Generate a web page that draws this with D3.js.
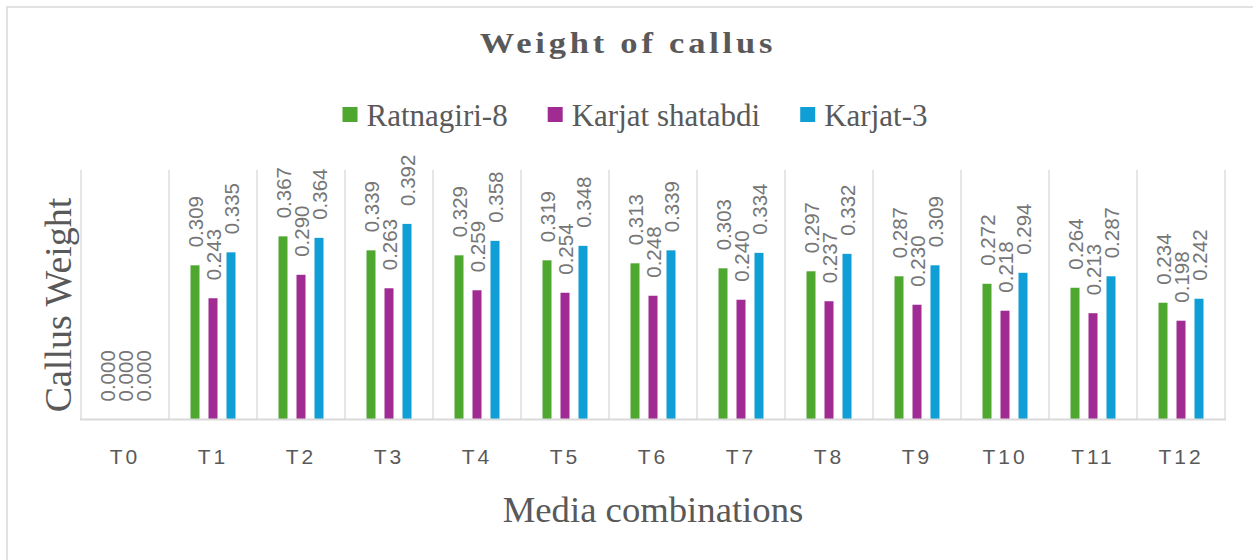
<!DOCTYPE html>
<html>
<head>
<meta charset="utf-8">
<script src="https://cdn.jsdelivr.net/npm/d3@7"></script>
<style>
  body { margin: 0; background: #fff; }
  svg { display: block; }
</style>
</head>
<body>
<svg id="chart" width="1253" height="560"></svg>
<script>
// chart data
var treatments = ["T0", "T1", "T2", "T3", "T4", "T5", "T6", "T7", "T8", "T9", "T10", "T11", "T12"];
var seriesNames = ["Ratnagiri-8", "Karjat shatabdi", "Karjat-3"];
var ratnagiri8 = [0.000, 0.309, 0.367, 0.339, 0.329, 0.319, 0.313, 0.303, 0.297, 0.287, 0.272, 0.264, 0.234];
var karjatShatabdi = [0.000, 0.243, 0.290, 0.263, 0.259, 0.254, 0.248, 0.240, 0.237, 0.230, 0.218, 0.213, 0.198];
var karjat3 = [0.000, 0.335, 0.364, 0.392, 0.358, 0.348, 0.339, 0.334, 0.332, 0.309, 0.294, 0.287, 0.242];
var colors = ["#4ea72e", "#a02b93", "#0f9ed5"];

var allSeries = [ratnagiri8, karjatShatabdi, karjat3];

var svg = d3.select("#chart");

// outer chart border (only left and top are inside the picture)
svg.append("rect")
  .attr("x", 7).attr("y", 7)
  .attr("width", 1300).attr("height", 600)
  .attr("fill", "none")
  .attr("stroke", "#d9d9d9")
  .attr("stroke-width", 1.5);

var plot = {left: 81, right: 1225, top: 170, bottom: 419.5};

var x = d3.scaleBand()
  .domain(treatments)
  .range([plot.left, plot.right])
  .padding(0);

// position of each series inside a category
var xs = d3.scaleBand()
  .domain(seriesNames)
  .range([-27, 27])
  .paddingInner(0.5)
  .paddingOuter(0.25);

var y = d3.scaleLinear()
  .domain([0, 0.5])
  .range([plot.bottom, plot.top]);

// vertical gridlines at category borders
var borders = treatments.map(function(t) { return x(t); }).concat([plot.right]);
svg.append("g")
  .selectAll("line")
  .data(borders)
  .enter()
  .append("line")
    .attr("x1", function(d) { return d; })
    .attr("x2", function(d) { return d; })
    .attr("y1", plot.top)
    .attr("y2", plot.bottom)
    .attr("stroke", "#d9d9d9")
    .attr("stroke-width", 1.3);

// bars
var rows = [];
treatments.forEach(function(t, i) {
  seriesNames.forEach(function(s, j) {
    rows.push({cat: t, series: s, idx: j, value: allSeries[j][i]});
  });
});

svg.append("g")
  .selectAll("rect")
  .data(rows)
  .enter()
  .append("rect")
    .attr("x", function(d) { return x(d.cat) + x.bandwidth() / 2 + xs(d.series); })
    .attr("y", function(d) { return y(d.value); })
    .attr("width", xs.bandwidth())
    .attr("height", function(d) { return plot.bottom - y(d.value); })
    .attr("fill", function(d) { return colors[d.idx]; });

// baseline
svg.append("line")
  .attr("x1", plot.left - 1).attr("x2", plot.right + 1)
  .attr("y1", plot.bottom).attr("y2", plot.bottom)
  .attr("stroke", "#d9d9d9")
  .attr("stroke-width", 2);

// data labels, rotated
svg.append("g")
  .selectAll("text")
  .data(rows)
  .enter()
  .append("text")
    .attr("transform", function(d) {
      var cx = x(d.cat) + x.bandwidth() / 2 + xs(d.series) + xs.bandwidth() / 2 + 7.5;
      var cy = y(d.value) - 18;
      return "translate(" + cx + "," + cy + ") rotate(-90)";
    })
    .attr("font-family", "Arial, 'Liberation Sans', sans-serif")
    .attr("font-size", "20.5px")
    .attr("fill", "#767676")
    .text(function(d) { return d.value.toFixed(3); });

// x tick labels
svg.append("g")
  .selectAll("text")
  .data(treatments)
  .enter()
  .append("text")
    .attr("x", function(d) { return x(d) + x.bandwidth() / 2; })
    .attr("y", 463.5)
    .attr("text-anchor", "middle")
    .attr("font-family", "Arial, 'Liberation Sans', sans-serif")
    .attr("font-size", "21px")
    .attr("letter-spacing", "3px")
    .attr("fill", "#595959")
    .text(function(d) { return d; });

// title (slightly widened like the original)
svg.append("text")
  .attr("transform", "translate(628,53) scale(1.15,1)")
  .attr("text-anchor", "middle")
  .attr("font-family", "'Liberation Serif', 'Times New Roman', serif")
  .attr("font-weight", "bold")
  .attr("font-size", "30px")
  .attr("letter-spacing", "3.3px")
  .attr("fill", "#595959")
  .text("Weight of callus");

// axis titles
svg.append("text")
  .attr("x", 653)
  .attr("y", 522)
  .attr("text-anchor", "middle")
  .attr("font-family", "'Liberation Serif', 'Times New Roman', serif")
  .attr("font-size", "36.7px")
  .attr("fill", "#595959")
  .text("Media combinations");

svg.append("text")
  .attr("transform", "translate(71,305) rotate(-90)")
  .attr("text-anchor", "middle")
  .attr("font-family", "'Liberation Serif', 'Times New Roman', serif")
  .attr("font-size", "38px")
  .attr("fill", "#595959")
  .text("Callus Weight");

// legend
var legend = svg.append("g");
var items = legend.selectAll("g")
  .data(seriesNames)
  .enter()
  .append("g");

items.append("rect")
  .attr("width", 15)
  .attr("height", 15)
  .attr("y", 107)
  .attr("fill", function(d, i) { return colors[i]; });

items.append("text")
  .attr("x", 24)
  .attr("y", 126)
  .attr("font-family", "'Liberation Serif', 'Times New Roman', serif")
  .attr("font-size", "31px")
  .attr("fill", "#595959")
  .text(function(d) { return d; });

// lay out legend items side by side, centred
var pos = 0, starts = [];
items.each(function() {
  starts.push(pos);
  var w = d3.select(this).select("text").node().getComputedTextLength();
  pos += 24 + w + 40;
});
var total = pos - 40;
var startX = 635 - total / 2;
items.attr("transform", function(d, i) { return "translate(" + (startX + starts[i]) + ",0)"; });
</script>
</body>
</html>
